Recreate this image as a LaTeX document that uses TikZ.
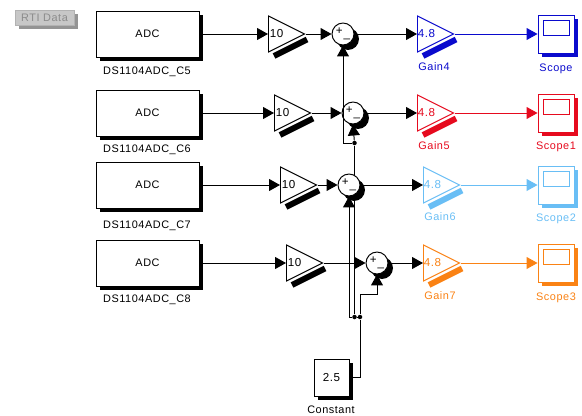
\documentclass[tikz,border=0pt]{standalone}
\usepackage{fontspec}
\setmainfont[LetterSpace=5]{Liberation Sans}
\usepackage{tikz}
\usetikzlibrary{shapes.geometric, arrows.meta, positioning, backgrounds, shadows}
\definecolor{gainblue}{RGB}{10,10,205}
\definecolor{gainred}{RGB}{230,10,30}
\definecolor{gainsky}{RGB}{105,190,245}
\definecolor{gainorange}{RGB}{250,130,20}
\tikzset{
  boxshadow/.style={drop shadow={fill=#1, opacity=1, shadow xshift=.085cm, shadow yshift=-.085cm}},
  adcbox/.style={draw, fill=white, line width=.55pt, minimum width=2.06cm, minimum height=.92cm, inner sep=0pt, boxshadow=black, font=\fontsize{6.2}{7}\selectfont},
  tagtext/.style={font=\fontsize{6.2}{7}\selectfont, inner sep=0pt},
  gaintri/.style={isosceles triangle, isosceles triangle stretches, draw=#1, fill=white, line width=.55pt, minimum width=.72cm, minimum height=.72cm, inner sep=0pt, anchor=lower side},
  gaintext/.style={font=\fontsize{6.6}{8}\selectfont, inner sep=0pt, anchor=west, xshift=.03cm},
  sumblock/.style={circle, draw, fill=white, line width=.55pt, minimum size=.44cm, inner sep=0pt, drop shadow={fill=black, opacity=1, shadow xshift=.1cm, shadow yshift=-.1cm}, font=\fontsize{6.6}{7}\selectfont},
  scopebox/.style={draw=#1, fill=white, line width=.55pt, minimum width=.72cm, minimum height=.76cm, inner sep=0pt, boxshadow=#1},
  screenbox/.style={draw=#1, fill=white, line width=.55pt, minimum width=.52cm, minimum height=.3cm, inner sep=0pt},
  sigline/.style={draw=#1, line width=.55pt, -{Triangle[length=.22cm, width=.24cm, fill=#1]}},
  sigline/.default=black,
  junct/.style={circle, fill=black, minimum size=.09cm, inner sep=0pt},
}
\begin{document}
\begin{tikzpicture}[x=.02cm, y=-.02cm]
\useasboundingbox (0,0) rectangle (582,416);

\node[draw=black!30, fill=black!22, minimum width=1.18cm, minimum height=.3cm, inner sep=0pt, text=black!45, font=\fontsize{6.2}{7}\selectfont, drop shadow={fill=black!42, opacity=1, shadow xshift=.08cm, shadow yshift=-.08cm}] (rti) at (44.5,17.5) {RTI Data};

\foreach \n/\y/\ty in {5/34/72, 6/113/150, 7/185/226, 8/263/300} {
  \node[adcbox] (adc\n) at (147.5,\y) {ADC};
  \node[tagtext] (adctag\n) at (147,\ty) {DS1104ADC\_C\n};
}

\foreach \n/\y/\xa/\xs/\xb/\c/\ga/\gy/\sa/\sy in {
  5/34/268/343/417/gainblue/Gain4/67/Scope/69,
  6/113/274/353/417/gainred/Gain5/146/Scope1/147,
  7/185/280/349/423/gainsky/Gain6/217/Scope2/219,
  8/263/286/377/423/gainorange/Gain7/296/Scope3/298} {
  \draw[black, line width=.12cm] (\xa+6,\y+22) -- (\xa+39,\y+5.5);
  \node[gaintri=black] (amp\n) at (\xa,\y) {};
  \node[gaintext] (ampval\n) at (amp\n.lower side) {10};
  \node[sumblock] (sum\n) at (\xs,\y) {+\hspace{.6pt}\raisebox{-2pt}{\_}};
  \draw[\c, line width=.12cm] (\xb+6,\y+22) -- (\xb+39,\y+5.5);
  \node[gaintri=\c] (gain\n) at (\xb,\y) {};
  \node[gaintext, text=\c, xshift=-.02cm] (gainval\n) at (gain\n.lower side) {4.8};
  \node[tagtext, text=\c, anchor=center] (gaintag\n) at (\xb+17,\gy) {\ga};
  \node[scopebox=\c] (scope\n) at (556,\y) {};
  \node[screenbox=\c] (screen\n) at (556,\y-6.5) {};
  \node[tagtext, text=\c] (scopetag\n) at (556,\sy) {\sa};
  \draw[sigline] (adc\n) -- (amp\n.lower side);
  \draw[sigline] (amp\n.apex) -- (sum\n);
  \draw[sigline] (sum\n) -- (gain\n.lower side);
  \draw[sigline=\c] (gain\n.apex) -- (scope\n);
}

\node[adcbox, minimum width=.7cm, minimum height=.74cm, font=\fontsize{6.6}{8}\selectfont] (const) at (331.5,377.5) {2.5};
\node[tagtext] (consttag) at (331,410) {Constant};

\node[junct] (jc) at (360,317) {};
\node[junct] (jb) at (354.5,317) {};
\node[junct] (ja) at (354.5,143) {};
\coordinate (bend8) at (360,294);
\coordinate (foot7) at (349,317);
\coordinate (foot5) at (343,143);

\begin{scope}[on background layer]
\draw[line width=.6pt] (jb) -- (ja);
\end{scope}
\draw[line width=.55pt] (const.east) -| (jc);
\draw[line width=.55pt] (jc) -- (jb);
\draw[sigline] (jc) -- (bend8) -| (sum8.south);
\draw[sigline] (jb) -- (foot7) -- (sum7.south);
\draw[sigline] (ja) -- (sum6.south);
\draw[sigline] (ja) -- (foot5) -- (sum5.south);
\end{tikzpicture}
\end{document}
